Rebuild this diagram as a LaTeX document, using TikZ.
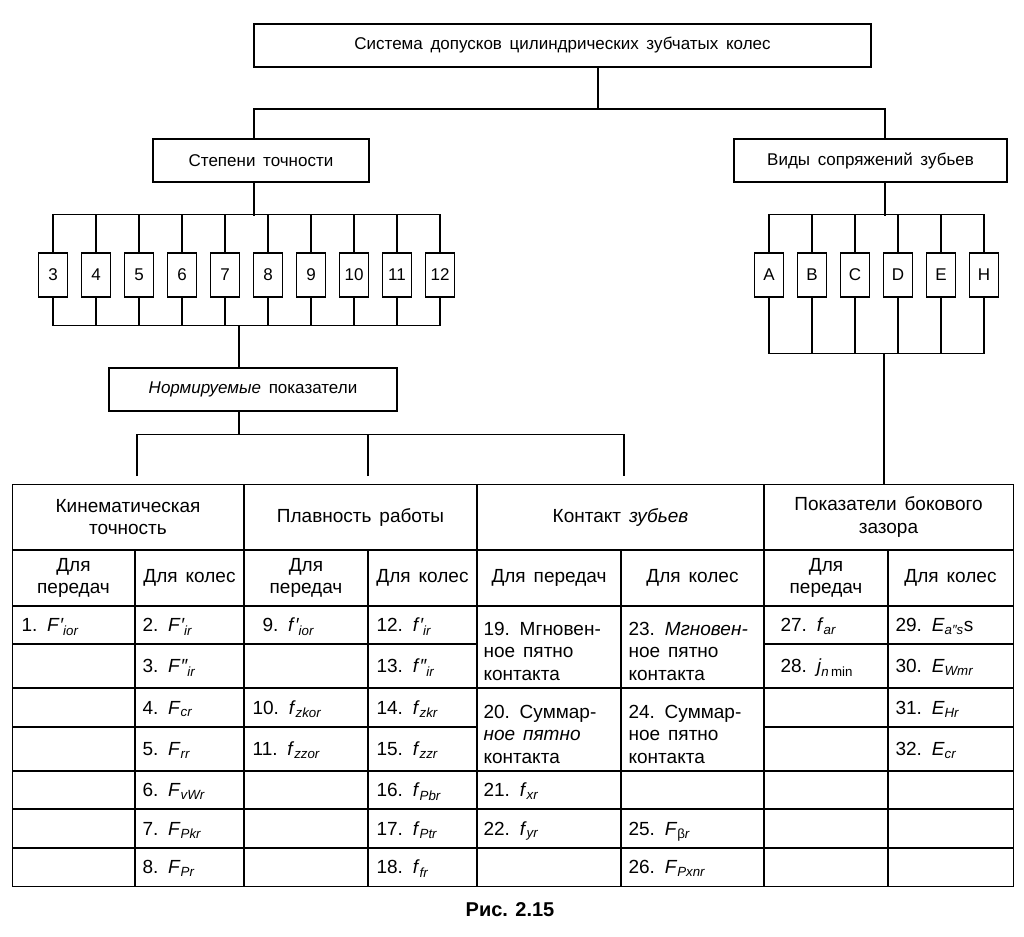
\documentclass[tikz,border=0pt]{standalone}
\usepackage{fontspec}
\setmainfont{Liberation Sans}
\newcommand\boxfont{\fontsize{17}{21}\selectfont\spaceskip=0.45em plus 0.1em\relax}
\newcommand\tabfont{\fontsize{19}{22.5}\selectfont\spaceskip=0.42em plus 0.1em\relax}
\newcommand\ix[3]{\textit{#1}{\itshape #2}\textsubscript{\itshape #3}}

\begin{document}
\begin{tikzpicture}[x=1pt,y=-1pt,line width=1.2pt,
  box/.style={draw,minimum height=43,inner sep=0pt,font=\boxfont},
  numbox/.style={draw,minimum width=29,minimum height=44,inner sep=0pt,font=\boxfont},
  head/.style={align=center,inner sep=0pt,font=\tabfont},
  cell/.style={anchor=base west,inner sep=0pt,font=\tabfont},
  cellm/.style={anchor=west,align=left,inner sep=0pt,font=\tabfont}]
  \useasboundingbox (0,0) rectangle (1024,936);

  \node[box,minimum width=617] (sys) at (562.5,45.5) {Система допусков цилиндрических зубчатых колес};
  \node[box,minimum width=216] (deg) at (261,160.5) {Степени точности};
  \node[box,minimum width=273] (kind) at (870.5,160.5) {Виды сопряжений зубьев};
  \node[box,minimum width=288] (norm) at (253,389.5) {\textit{Нормируемые} показатели};
  \node[draw,minimum width=1001,minimum height=402,inner sep=0pt,anchor=north west] (tab) at (12,484) {};

  \coordinate (j0) at (598,109);
  \coordinate (jd) at (254,109);
  \coordinate (jk) at (885,109);
  \draw (sys.south -| j0) -- (j0);
  \draw (deg.north -| jd) -- (jd) -- (jk) -- (kind.north -| jk);

  % degrees of accuracy
  \foreach \n [count=\i from 0] in {3,...,12}{
    \node[numbox] (d\n) at ({53+43*\i},275) {\n};
    \draw (d\n.north) -- ++(0,-38) (d\n.south) -- ++(0,28);
  }
  \draw ([yshift=38pt]d3.north) -- ([yshift=38pt]d12.north);
  \draw ([yshift=-28pt]d3.south) -- ([yshift=-28pt]d12.south);
  \draw (deg.south -| jd) -- ++(0,33);

  \coordinate (jn) at (239,325);
  \draw (jn) -- (norm.north -| jn) (norm.south -| jn) -- ++(0,23) coordinate (jb);
  \coordinate (b1) at (137,476);
  \coordinate (b2) at (368,476);
  \coordinate (b3) at (624,476);
  \draw (b1) |- (jb) -| (b3);
  \draw (b2) -- (b2 |- jb);

  % kinds of fit
  \foreach \l [count=\i from 0] in {A,B,C,D,E,H}{
    \node[numbox] (v\l) at ({769+43*\i},275) {\l};
    \draw (v\l.north) -- ++(0,-38) (v\l.south) -- ++(0,56);
  }
  \draw ([yshift=38pt]vA.north) -- ([yshift=38pt]vH.north);
  \draw ([yshift=-56pt]vA.south) -- ([yshift=-56pt]vH.south);
  \draw (kind.south -| jk) -- ++(0,33);
  \coordinate (jv) at (884,353);
  \draw (jv) -- (tab.north -| jv);

  % table
  \draw (12,550) -- (1013,550) (12,606) -- (1013,606);
  \foreach \x in {244,477,764} \draw (\x,484) -- (\x,886);
  \foreach \x in {135,368,621,888} \draw (\x,550) -- (\x,886);
  \foreach \y in {688,771,809,848} \draw (12,\y) -- (1013,\y);
  \foreach \y in {644,727} \draw (12,\y) -- (477,\y) (764,\y) -- (1013,\y);

  \node[head] (h1) at (128,517) {Кинематическая\\точность};
  \node[head] (h2) at (360.5,517) {Плавность работы};
  \node[head] (h3) at (620.5,517) {Контакт \textit{зубьев}};
  \node[head] (h4) at (888.5,517) {Показатели бокового\\зазора};
  \foreach \x/\t [count=\i] in {73.5/{Для\\передач},189.5/{Для колес},306/{Для\\передач},422.5/{Для колес},
      549/{Для передач},692.5/{Для колес},826/{Для\\передач},950.5/{Для колес}}
    \node[head] (s\i) at (\x,578) {\t};

  \foreach \x/\y/\t [count=\i] in {
      21/631.5/{1. \ix{F}{′}{ior}},
      142/631.5/{2. \ix{F}{′}{ir}}, 142/672.5/{3. \ix{F}{″}{ir}}, 142/714/{4. \ix{F}{}{cr}},
      142/755.5/{5. \ix{F}{}{rr}}, 142/796.5/{6. \ix{F}{}{vWr}}, 142/835/{7. \ix{F}{}{Pkr}},
      142/873.5/{8. \ix{F}{}{Pr}},
      262/631.5/{9. \ix{f}{′}{ior}}, 252/714/{10. \ix{f}{}{zkor}}, 252/755.5/{11. \ix{f}{}{zzor}},
      376/631.5/{12. \ix{f}{′}{ir}}, 376/672.5/{13. \ix{f}{″}{ir}}, 376/714/{14. \ix{f}{}{zkr}},
      376/755.5/{15. \ix{f}{}{zzr}}, 376/796.5/{16. \ix{f}{}{Pbr}}, 376/835/{17. \ix{f}{}{Ptr}},
      376/873.5/{18. \ix{f}{}{fr}},
      483/796.5/{21. \ix{f}{}{xr}}, 483/835/{22. \ix{f}{}{yr}},
      628/835/{25. \textit{F}\textsubscript{β\itshape r}}, 628/873.5/{26. \ix{F}{}{Pxnr}},
      780/631.5/{27. \ix{f}{}{ar}}, 780/672.5/{28. \textit{j}\textsubscript{\itshape n\,\upshape min}},
      895/631.5/{29. \ix{E}{}{a″s}s}, 895/672.5/{30. \ix{E}{}{Wmr}}, 895/714/{31. \ix{E}{}{Hr}},
      895/755.5/{32. \ix{E}{}{cr}}}
    \node[cell] (k\i) at (\x,\y) {\t};

  \node[cellm] (m19) at (483,651) {19. Мгновен-\\ное пятно\\контакта};
  \node[cellm] (m20) at (483,734) {20. Суммар-\\\textit{ное пятно}\\контакта};
  \node[cellm] (m23) at (628,651) {23. \textit{Мгновен-}\\ное пятно\\контакта};
  \node[cellm] (m24) at (628,734) {24. Суммар-\\ное пятно\\контакта};

  \node[font=\bfseries\fontsize{20}{24}\selectfont] (cap) at (510,910) {Рис. 2.15};
\end{tikzpicture}
\end{document}
